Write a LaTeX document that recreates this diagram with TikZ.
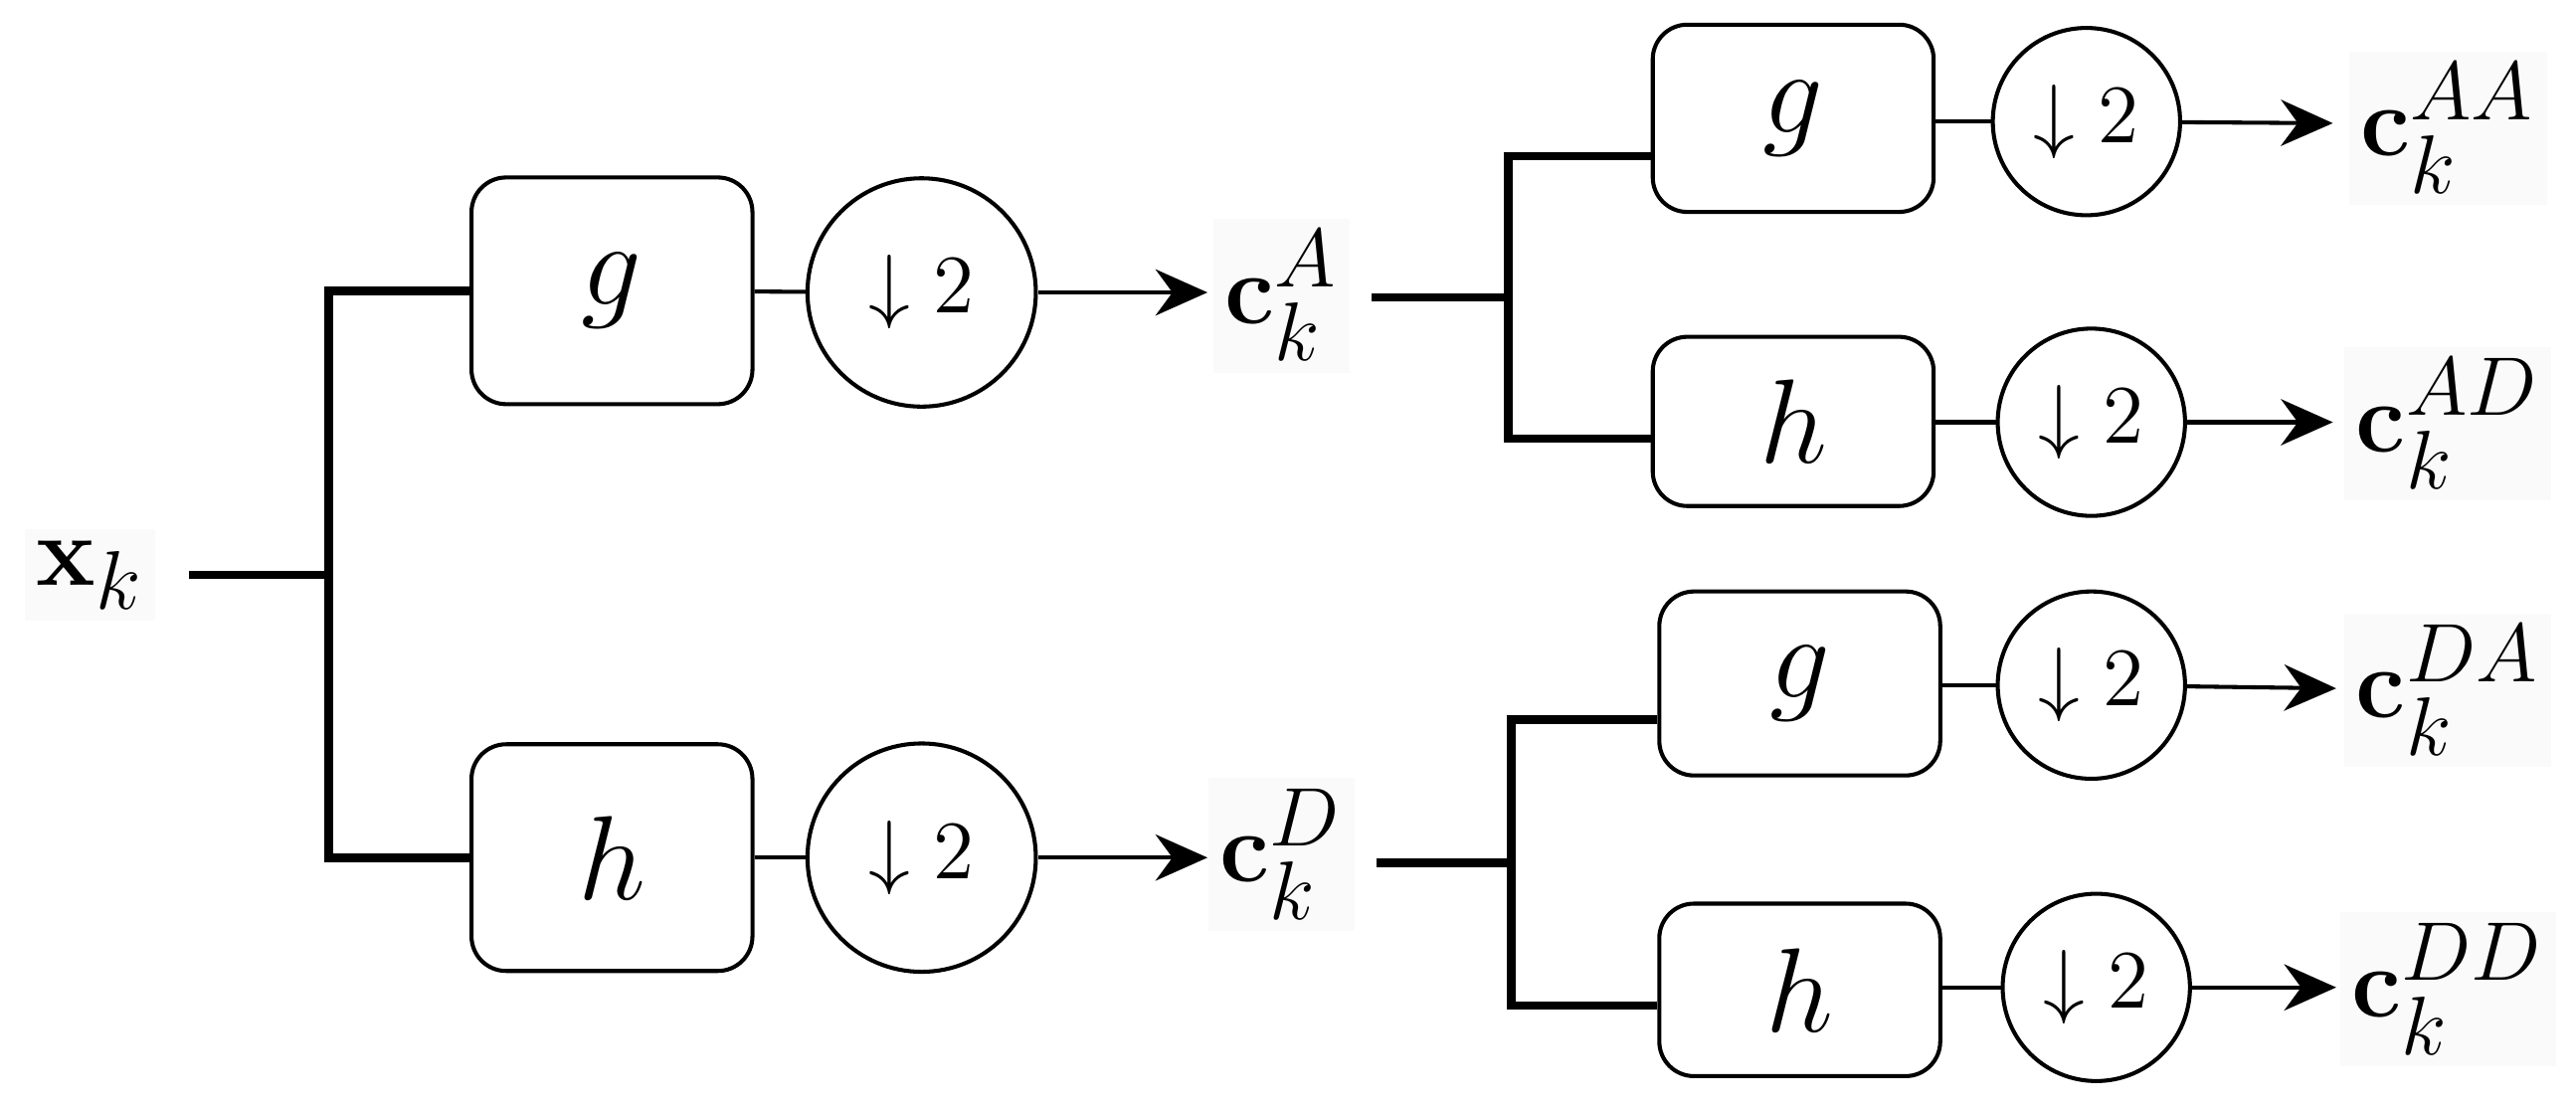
\documentclass[tikz,border=0pt]{standalone}
\usepackage{amsmath}
\usetikzlibrary{arrows.meta}
\begin{document}
\begin{tikzpicture}[y=-1cm,
  filt/.style={draw, line width=0.7pt, rounded corners=6pt, inner sep=0pt},
  down/.style={draw, circle, line width=0.7pt, inner sep=0pt, font=\fontsize{15}{18}\selectfont},
  lab/.style={fill=black!2, inner sep=2pt, font=\fontsize{19}{22}\selectfont},
  tree/.style={line width=1.5pt},
  link/.style={line width=0.7pt},
  outarrow/.style={line width=0.7pt, -{Stealth[length=9pt,width=8pt]}}]
  \useasboundingbox (0,0) rectangle (15.68,6.75);
  % input
  \node[lab] (x) at (0.55,3.5) {$\mathbf{x}_k$};
  \coordinate (xr) at (1.15,3.5);
  \coordinate (j) at (2.0,3.5);
  % first level
  \node[filt, minimum width=1.71cm, minimum height=1.38cm, font=\fontsize{22}{26}\selectfont] (g1) at (3.725,1.77) {$g$};
  \node[filt, minimum width=1.71cm, minimum height=1.38cm, font=\fontsize{22}{26}\selectfont] (h1) at (3.725,5.22) {$h$};
  \node[down, minimum size=1.39cm] (d1) at (5.61,1.78) {$\downarrow 2$};
  \node[down, minimum size=1.39cm] (d2) at (5.61,5.22) {$\downarrow 2$};
  \node[lab] (cA) at (7.8,1.8) {$\mathbf{c}_k^{A}$};
  \node[lab] (cD) at (7.8,5.2) {$\mathbf{c}_k^{D}$};
  \draw[tree] (xr) -- (j);
  \draw[tree] (g1.west) -| (j) |- (h1.west);
  \draw[link] (g1) -- (d1);
  \draw[link] (h1) -- (d2);
  \draw[outarrow] (d1) -- (7.35,1.78);
  \draw[outarrow] (d2) -- (7.35,5.22);
  % second level, upper
  \node[filt, minimum width=1.71cm, minimum height=1.14cm, font=\fontsize{22}{26}\selectfont] (g2) at (10.915,0.72) {$g$};
  \node[filt, minimum width=1.71cm, minimum height=1.03cm, font=\fontsize{22}{26}\selectfont] (h2) at (10.915,2.565) {$h$};
  \node[down, minimum size=1.14cm] (d3) at (12.70,0.74) {$\downarrow 2$};
  \node[down, minimum size=1.14cm] (d4) at (12.73,2.57) {$\downarrow 2$};
  \node[lab] (cAA) at (14.9,0.78) {$\mathbf{c}_k^{AA}$};
  \node[lab] (cAD) at (14.9,2.58) {$\mathbf{c}_k^{AD}$};
  \coordinate (jA) at (9.18,1.81);
  \draw[tree] (8.35,1.81) -- (jA);
  \draw[tree] (g2.west |- 0,0.95) -| (jA) |- (h2.west |- 0,2.67);
  \draw[link] (g2.east |- d3) -- (d3);
  \draw[link] (h2.east |- d4) -- (d4);
  \draw[outarrow] (d3) -- (14.2,0.75);
  \draw[outarrow] (d4) -- (14.2,2.57);
  % second level, lower
  \node[filt, minimum width=1.71cm, minimum height=1.12cm, font=\fontsize{22}{26}\selectfont] (g3) at (10.955,4.16) {$g$};
  \node[filt, minimum width=1.71cm, minimum height=1.05cm, font=\fontsize{22}{26}\selectfont] (h3) at (10.955,6.025) {$h$};
  \node[down, minimum size=1.14cm] (d5) at (12.73,4.17) {$\downarrow 2$};
  \node[down, minimum size=1.14cm] (d6) at (12.76,6.01) {$\downarrow 2$};
  \node[lab] (cDA) at (14.9,4.2) {$\mathbf{c}_k^{DA}$};
  \node[lab] (cDD) at (14.9,6.02) {$\mathbf{c}_k^{DD}$};
  \coordinate (jD) at (9.2,5.25);
  \draw[tree] (8.38,5.25) -- (jD);
  \draw[tree] (g3.west |- 0,4.38) -| (jD) |- (h3.west |- 0,6.12);
  \draw[link] (g3.east |- d5) -- (d5);
  \draw[link] (h3.east |- d6) -- (d6);
  \draw[outarrow] (d5) -- (14.22,4.19);
  \draw[outarrow] (d6) -- (14.22,6.01);
\end{tikzpicture}
\end{document}
